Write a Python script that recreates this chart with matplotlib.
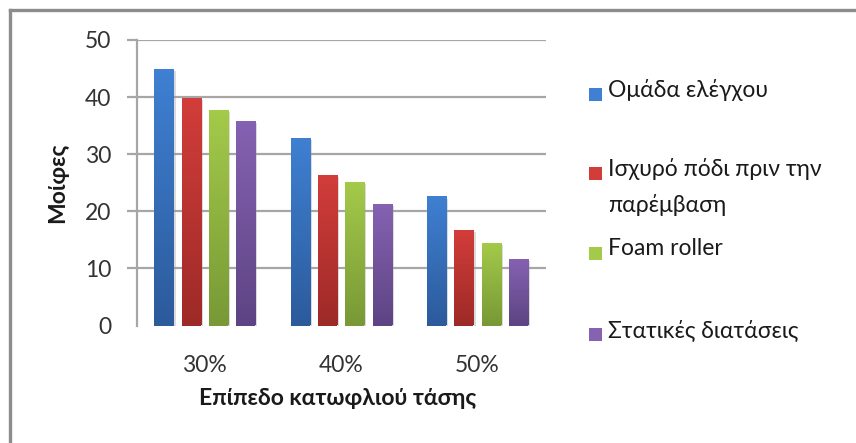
"""Grouped bar chart of stretch-threshold angles per intervention group."""

import matplotlib

matplotlib.use("Agg")
import matplotlib.pyplot as plt
import numpy as np
from matplotlib import patheffects
from matplotlib.colors import to_rgb
from matplotlib.lines import Line2D
from matplotlib.patches import Rectangle

plt.rcParams["font.family"] = ["Lato", "Noto Sans", "DejaVu Sans"]

categories = ["30%", "40%", "50%"]
series_names = [
    "Ομάδα ελέγχου",
    "Ισχυρό πόδι πριν την\nπαρέμβαση",
    "Foam roller",
    "Στατικές διατάσεις",
]
control_group = [45.0, 32.9, 22.6]
strong_leg_before = [39.9, 26.4, 16.8]
foam_roller = [37.7, 25.1, 14.4]
static_stretching = [35.8, 21.3, 11.6]
y_ticks = [0, 10, 20, 30, 40, 50]

# (top, bottom) colours of the Excel-style gradient fill
gradients = [
    ("#3f80d2", "#2c5b9c"),
    ("#d23d3a", "#9e2a28"),
    ("#a4ca4a", "#789936"),
    ("#8562b2", "#5e4484"),
]

W, H = 856, 443
FONT = 16.5
fig = plt.figure(figsize=(W / 100, H / 100), dpi=100)
ax = fig.add_axes([136.7 / W, 1 - 325.5 / H, 409 / W, 285.5 / H])

all_series = [control_group, strong_leg_before, foam_roller, static_stretching]
positions = np.arange(len(categories))
pitch, width = 0.2, 0.14
shadow = [
    patheffects.SimplePatchShadow(offset=(1.5, -1.5), shadow_rgbFace="#9a9a9a", alpha=0.35),
    patheffects.Normal(),
]

for index, (values, (top, bottom)) in enumerate(zip(all_series, gradients)):
    offsets = positions + (index - 1.5) * pitch
    bars = ax.bar(offsets, values, width=width, color=bottom, linewidth=0, zorder=3)
    ramp = np.linspace(0, 1, 64)[:, None, None]
    image = (1 - ramp) * np.array(to_rgb(top)) + ramp * np.array(to_rgb(bottom))
    for bar in bars:
        bar.set_path_effects(shadow)
        x0, y0 = bar.get_x(), bar.get_y()
        gradient = ax.imshow(
            image,
            extent=(x0, x0 + bar.get_width(), y0, y0 + bar.get_height()),
            origin="upper",
            aspect="auto",
            zorder=4,
        )
        gradient.set_clip_path(bar)

ax.set_xlim(-0.5, len(categories) - 0.5)
ax.set_ylim(0, 50)
ax.set_xticks(positions)
ax.set_xticklabels(categories)
ax.set_yticks(y_ticks)
ax.set_yticklabels([str(v) for v in y_ticks])

grid_color = "#a6a6a6"
ax.yaxis.grid(True, color=grid_color, linewidth=1.6, zorder=1)
ax.set_axisbelow(True)
ax.yaxis.get_gridlines()[0].set_visible(False)
ax.yaxis.get_major_ticks()[0].tick1line.set_visible(False)

for side in ("top", "right", "bottom"):
    ax.spines[side].set_visible(False)
ax.spines["left"].set_color(grid_color)
ax.spines["left"].set_linewidth(1.6)

ax.tick_params(axis="y", length=7.2, width=1.6, color=grid_color, pad=11,
               labelsize=FONT, labelcolor="#333333")
ax.tick_params(axis="x", length=0, pad=21, labelsize=FONT, labelcolor="#333333")

ax.set_ylabel("Μοίφες", fontsize=FONT, fontweight="bold", color="#1a1a1a")
ax.yaxis.set_label_coords(-0.168, 0.5)
ax.set_xlabel("Επίπεδο κατωφλιού τάσης", fontsize=FONT, fontweight="bold",
              color="#1a1a1a")
ax.xaxis.set_label_coords(0.492, -0.22)

# manual legend laid out like the Excel one
legend_rows = [94, 173, 253, 334]
for name, (top, bottom), row in zip(series_names, gradients, legend_rows):
    fig.patches.append(Rectangle(
        (589 / W, 1 - (row + 6.5) / H), 13 / W, 13 / H,
        transform=fig.transFigure, facecolor=top, edgecolor="none",
    ))
    fig.text(608 / W, 1 - (row - 15) / H, name, fontsize=FONT, color="#1a1a1a",
             va="top", ha="left", linespacing=1.75)

# chart-area border (left and top edges only are in frame)
border = "#8c8c8c"
fig.lines.append(Line2D([10 / W, 10 / W], [0, 1 - 10 / H], transform=fig.transFigure,
                        color=border, linewidth=2.4))
fig.lines.append(Line2D([10 / W, 1], [1 - 10 / H, 1 - 10 / H], transform=fig.transFigure,
                        color=border, linewidth=2.4))

fig.savefig("out.png", dpi=100, facecolor="white")
plt.close(fig)
